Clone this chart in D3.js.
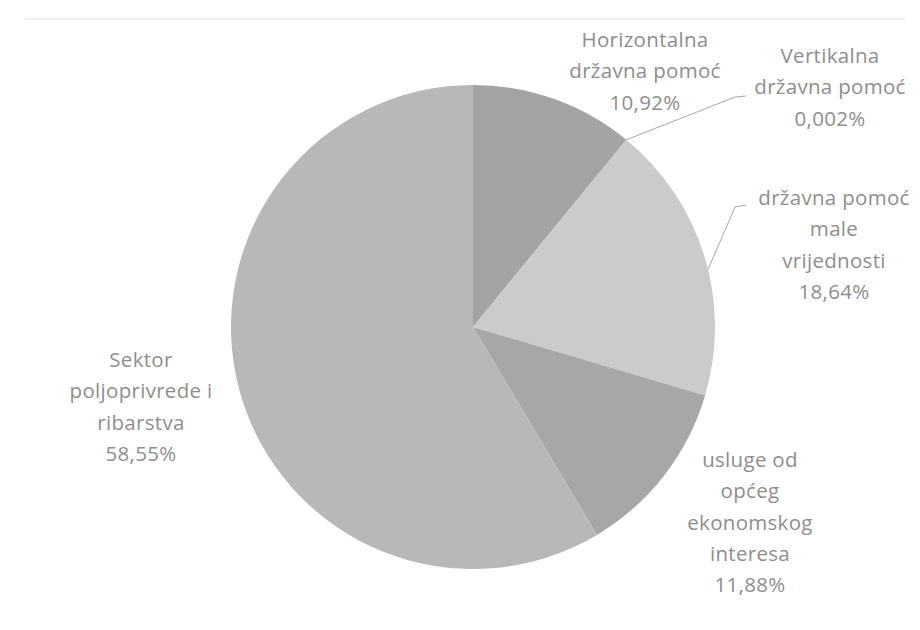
<!DOCTYPE html>
<html><head><meta charset="utf-8">
<script src="https://cdn.jsdelivr.net/npm/d3@7"></script>
<style>body{margin:0;background:#fff}svg{display:block}</style>
</head><body>
<script>
const categories = ["Horizontalna državna pomoć","Vertikalna državna pomoć","državna pomoć male vrijednosti","usluge od općeg ekonomskog interesa","Sektor poljoprivrede i ribarstva"];
const values = [10.92, 0.002, 18.64, 11.88, 58.55];
const valueLabels = ["10,92%","0,002%","18,64%","11,88%","58,55%"];
const labelLines = [
  ["Horizontalna","državna pomoć"],
  ["Vertikalna","državna pomoć"],
  ["državna pomoć","male","vrijednosti"],
  ["usluge od","općeg","ekonomskog","interesa"],
  ["Sektor","poljoprivrede i","ribarstva"]
];
const colors = ["#a4a4a4","#b0b0b0","#cbcbcb","#a7a7a7","#b8b8b8"];

const W=920,H=630, cx=473, cy=327, R=242;
const svg=d3.select("body").append("svg").attr("width",W).attr("height",H);
svg.append("line").attr("x1",25).attr("x2",905).attr("y1",19).attr("y2",19).attr("stroke","#f0f0f0").attr("stroke-width",2);

const pie=d3.pie().sort(null).value(d=>d)(values);
const arc=d3.arc().innerRadius(0).outerRadius(R);
const g=svg.append("g").attr("transform",`translate(${cx},${cy})`);
g.selectAll("path").data(pie).join("path").attr("d",arc).attr("fill",(d,i)=>colors[i]);

// label anchor positions (center x, first line baseline y)
const labelPos=[[645,47],[830,63],[834,205],[750,467],[141,367]];
const lh=31.3;
const txt=svg.append("g").attr("font-family","'Open Sans', Lato, sans-serif").attr("font-size",20.5).attr("letter-spacing",0.3).attr("fill","#8e8e8e").attr("text-anchor","middle");
labelLines.forEach((lines,i)=>{
  const all=lines.concat([valueLabels[i]]);
  const t=txt.append("text").attr("x",labelPos[i][0]).attr("y",labelPos[i][1]);
  all.forEach((s,j)=>t.append("tspan").attr("x",labelPos[i][0]).attr("dy",j?lh:0).text(s));
});

// leader lines
const leaderArc=d3.arc().innerRadius(R).outerRadius(R);
const p1=leaderArc.centroid(pie[1]);
const mid2=pie[2].startAngle+(pie[2].endAngle-pie[2].startAngle)*0.55;
const p2=d3.arc().innerRadius(R).outerRadius(R).startAngle(mid2).endAngle(mid2).centroid();
const lines=[
  [[cx+p1[0],cy+p1[1]],[735,97],[746,96]],
  [[cx+p2[0],cy+p2[1]],[735,207],[746,205]]
];
svg.selectAll("path.leader").data(lines).join("path").attr("class","leader")
  .attr("d",d=>d3.line()(d)).attr("fill","none").attr("stroke","#a8a8a8").attr("stroke-width",1);
</script>
</body></html>
